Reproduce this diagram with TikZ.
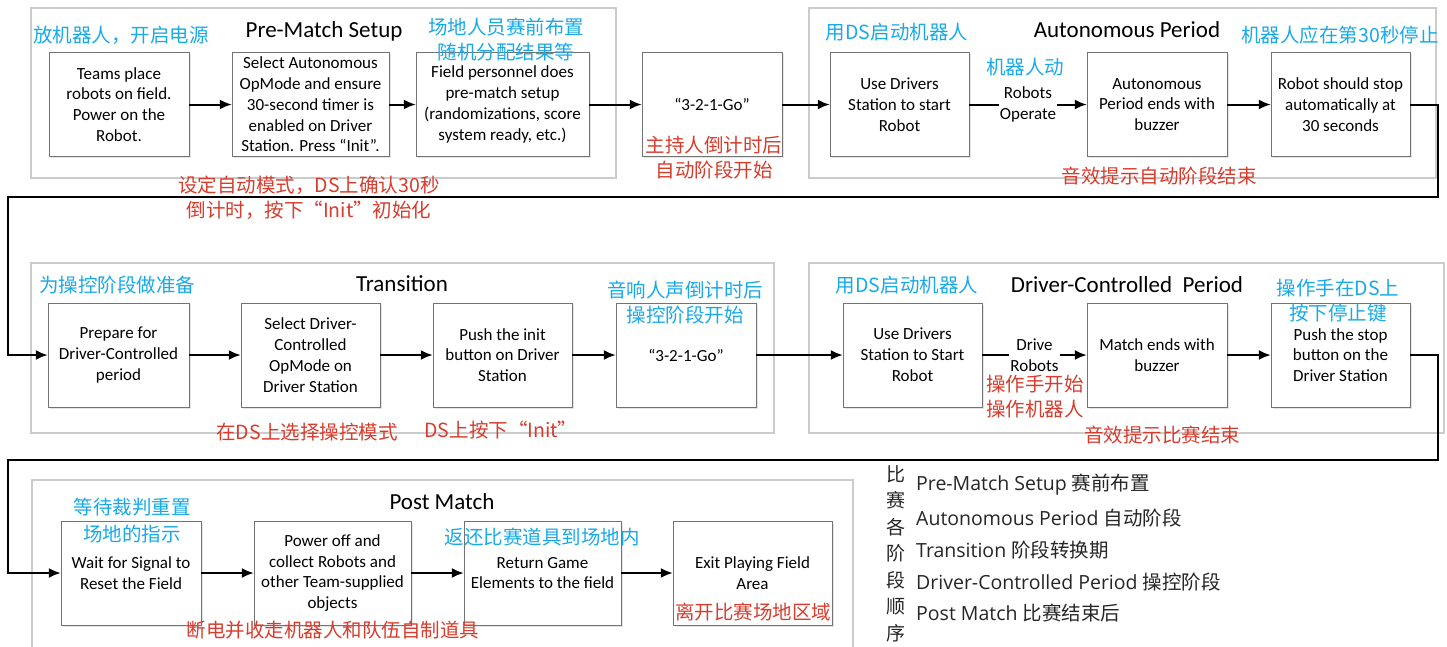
\documentclass[tikz,border=0pt]{standalone}
\usepackage{fontspec}
\setmainfont{Carlito}
\newfontfamily\cjk{Noto Sans CJK SC}
\newfontfamily\osans{Open Sans}
\usetikzlibrary{arrows.meta,shadows}
\definecolor{tipblue}{RGB}{25,170,230}
\definecolor{tipred}{RGB}{215,60,45}
\begin{document}
\begin{tikzpicture}[>={Latex[length=12pt,width=10pt]}, x=1pt, y=-1pt,
  box/.style={draw=black!55, fill=white, minimum width=140pt, minimum height=104pt,
    align=center, inner sep=1pt, font=\fontsize{17}{20.8}\selectfont,
    drop shadow={shadow xshift=1.5pt, shadow yshift=-1.5pt, opacity=.2}},
  frame/.style={draw=black!20, line width=1.5pt},
  phase/.style={font=\fontsize{23}{27}\selectfont},
  bluenote/.style={text=tipblue, align=center, inner sep=0pt, font=\cjk\fontsize{19.5}{25}\selectfont},
  rednote/.style={text=tipred, align=center, inner sep=0pt, font=\cjk\fontsize{19.5}{25}\selectfont},
  flow/.style={->, line width=2pt},
  edgelabel/.style={fill=white, align=center, inner sep=1pt, font=\fontsize{17}{20.8}\selectfont},
  legend/.style={anchor=west, inner sep=0pt, text=black!85, font=\fontsize{19.5}{24}\selectfont}]
\fill[white] (0,0) rectangle (1447,646);
\useasboundingbox (0,0) rectangle (1447,646);
% phase frames
\draw[frame] (31,8) rectangle (616,178);
\draw[frame] (809,8) rectangle (1436,178);
\draw[frame] (31,263) rectangle (774,433);
\draw[frame] (809,263) rectangle (1444,433);
\draw[frame] (32,480) rectangle (853,652);
\node (t1) at (324,31)[phase]{Pre-Match Setup};
\node (t2) at (1127,30)[phase]{Autonomous Period};
\node (t3) at (402,284)[phase]{Transition};
\node (t4) at (1127,285)[phase]{Driver-Controlled\ \ Period};
\node (t5) at (442,502)[phase]{Post Match};
% row 1
\node (b1) at (119,104.5)[box]{Teams place\\robots on field.\\Power on the\\Robot.};
\node (b2) at (310.5,104.5)[box, minimum width=157pt]{Select Autonomous\\OpMode and ensure\\30-second timer is\\enabled on Driver\\Station. Press “Init”.};
\node (b3) at (502.5,104.5)[box, minimum width=173pt]{Field personnel does\\pre-match setup\\(randomizations, score\\system ready, etc.)};
\node (b4) at (712,104.5)[box]{“3-2-1-Go”};
\node (b5) at (899.5,104.5)[box, minimum width=139pt]{Use Drivers\\Station to start\\Robot};
\node (b6) at (1157,104.5)[box]{Autonomous\\Period ends with\\buzzer};
\node (b7) at (1340.5,104.5)[box, minimum width=139pt]{Robot should stop\\automatically at\\30 seconds};
% row 2
\node (b8) at (118.5,355)[box, minimum width=141pt]{Prepare for\\Driver-Controlled\\period};
\node (b9) at (310.5,355)[box, minimum width=139pt]{Select Driver-\\Controlled\\OpMode on\\Driver Station};
\node (b10) at (502.5,355)[box, minimum width=139pt]{Push the init\\button on Driver\\Station};
\node (b11) at (686,355)[box]{“3-2-1-Go”};
\node (b12) at (912.5,355)[box, minimum width=139pt]{Use Drivers\\Station to Start\\Robot};
\node (b13) at (1157,355)[box]{Match ends with\\buzzer};
\node (b14) at (1340.5,355)[box, minimum width=139pt]{Push the stop\\button on the\\Driver Station};
% row 3
\node (b15) at (131,573)[box]{Wait for Signal to\\Reset the Field};
\node (b16) at (332.5,573)[box, minimum width=157pt]{Power off and\\collect Robots and\\other Team-supplied\\objects};
\node (b17) at (542.5,573)[box, minimum width=157pt]{Return Game\\Elements to the field};
\node (b18) at (752.5,573)[box, minimum width=159pt]{Exit Playing Field\\Area};
% connectors
\draw[flow] (b1)--(b2);
\draw[flow] (b2)--(b3);
\draw[flow] (b3)--(b4);
\draw[flow] (b4)--(b5);
\draw[flow] (b5)--node[edgelabel]{Robots\\Operate}(b6);
\draw[flow] (b6)--(b7);
\coordinate (ra) at (1438,197);
\coordinate (rb) at (8,197);
\draw[flow] (b7.east)-|(ra)--(rb)|-(b8.west);
\draw[flow] (b8)--(b9);
\draw[flow] (b9)--(b10);
\draw[flow] (b10)--(b11);
\draw[flow] (b11)--(b12);
\draw[flow] (b12)--node[edgelabel]{Drive\\Robots}(b13);
\draw[flow] (b13)--(b14);
\coordinate (rc) at (1438,460);
\coordinate (rd) at (8,460);
\draw[flow] (b14.east)-|(rc)--(rd)|-(b15.west);
\draw[flow] (b15)--(b16);
\draw[flow] (b16)--(b17);
\draw[flow] (b17)--(b18);
% notes
\node (n1) at (121,35)[bluenote]{放机器人，开启电源};
\node (n2) at (506,39.5)[bluenote]{场地人员赛前布置\\随机分配结果等};
\node (n3) at (897,32)[bluenote]{用DS启动机器人};
\node (n4) at (1340,35)[bluenote]{机器人应在第30秒停止};
\node (n5) at (1025,67)[bluenote]{机器人动};
\node (n6) at (117,285)[bluenote]{为操控阶段做准备};
\node (n7) at (685,302.5)[bluenote]{音响人声倒计时后\\操控阶段开始};
\node (n8) at (907,285)[bluenote]{用DS启动机器人};
\node (n9) at (1338,301)[bluenote]{操作手在DS上\\按下停止键};
\node (n10) at (132,521)[bluenote, font=\cjk\fontsize{19.5}{27}\selectfont]{等待裁判重置\\场地的指示};
\node (n11) at (542,537)[bluenote]{返还比赛道具到场地内};
\node (m1) at (309,197.5)[rednote]{设定自动模式，DS上确认30秒\\倒计时，按下“Init”初始化};
\node (m2) at (714,157.5)[rednote]{主持人倒计时后\\自动阶段开始};
\node (m3) at (1159,176)[rednote]{音效提示自动阶段结束};
\node (m4) at (307,432)[rednote]{在DS上选择操控模式};
\node (m5) at (501,430)[rednote]{DS上按下“Init”};
\node (m6) at (1035,396.5)[rednote]{操作手开始\\操作机器人};
\node (m7) at (1162,435)[rednote]{音效提示比赛结束};
\node (m8) at (753,612)[rednote]{离开比赛场地区域};
\node (m9) at (333,630)[rednote]{断电并收走机器人和队伍自制道具};
% legend
\node (lg) at (896,553.5)[inner sep=0pt, align=center, text=black!85, font=\cjk\fontsize{19}{26.5}\selectfont]{比\\赛\\各\\阶\\段\\顺\\序};
\node (l1) at (916,485)[legend]{\osans Pre-Match Setup {\cjk 赛前布置}};
\node (l2) at (916,518)[legend]{\osans Autonomous Period {\cjk 自动阶段}};
\node (l3) at (916,550)[legend]{\osans Transition {\cjk 阶段转换期}};
\node (l4) at (916,582)[legend]{\osans Driver-Controlled Period {\cjk 操控阶段}};
\node (l5) at (916,613)[legend]{\osans Post Match {\cjk 比赛结束后}};
\end{tikzpicture}
\end{document}
